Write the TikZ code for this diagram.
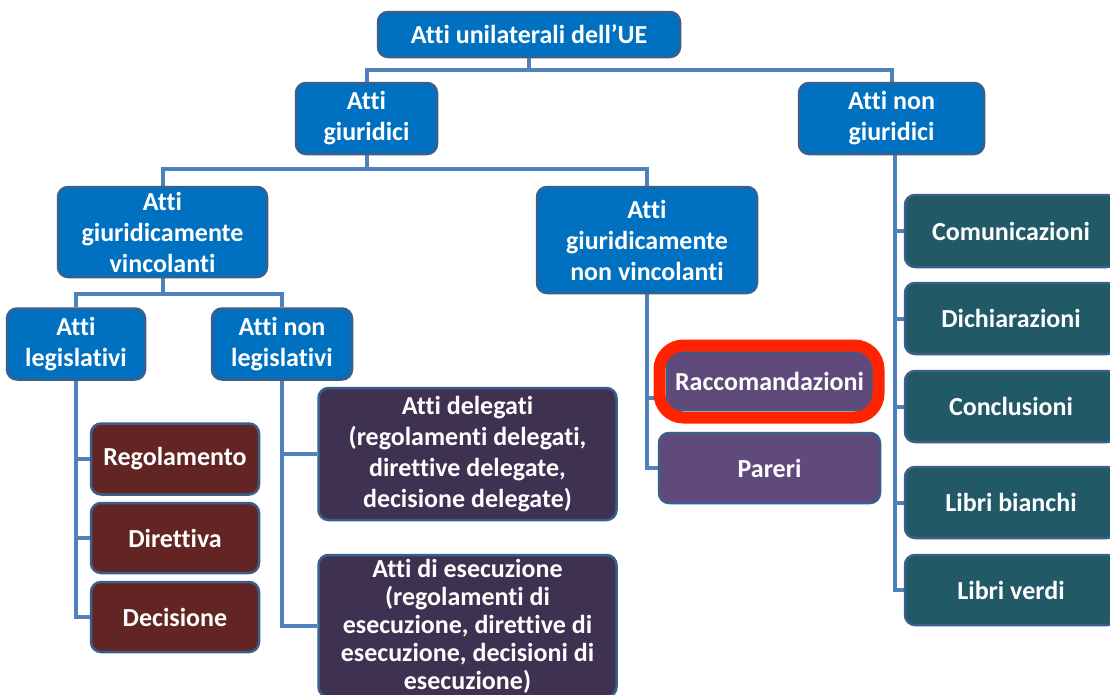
\documentclass[tikz,border=0pt]{standalone}
\usepackage{fontspec}
\setmainfont{Carlito}[Ligatures={NoCommon,NoRequired,NoContextual}]
\usetikzlibrary{backgrounds,calc}
\definecolor{cblue}{HTML}{0070C0}
\definecolor{cedge}{HTML}{3A5F8B}
\definecolor{cmaroon}{HTML}{632523}
\definecolor{cdpurple}{HTML}{3F3151}
\definecolor{cpurple}{HTML}{604A7B}
\definecolor{cteal}{HTML}{215967}
\definecolor{cred}{HTML}{FF2300}
\definecolor{cconn}{HTML}{4F81BD}
\tikzset{
  box/.style={draw=cedge, line width=2.5pt, rounded corners=10pt, text=white, align=center,
    inner sep=0pt, font=\fontsize{26}{31}\selectfont\bfseries},
  bluebox/.style={box, fill=cblue},
  redbox/.style={box, fill=cmaroon},
  dpbox/.style={box, fill=cdpurple},
  pbox/.style={box, fill=cpurple},
  tealbox/.style={box, fill=cteal},
  conn/.style={draw=cconn, line width=4pt},
}
\begin{document}
\begin{tikzpicture}[x=1pt,y=-1pt]
\useasboundingbox (0,0) rectangle (1110,694);
\clip (0,0) rectangle (1110,694);
% nodes
\node[bluebox, minimum width=302pt, minimum height=45pt] (root) at (529,34.5) {Atti unilaterali dell’UE};
\node[bluebox, minimum width=141pt, minimum height=71pt] (giur) at (366.5,118.5) {Atti\\giuridici};
\node[bluebox, minimum width=185pt, minimum height=71pt] (nongiur) at (891.5,118.5) {Atti non\\giuridici};
\node[bluebox, minimum width=209pt, minimum height=90pt] (vinc) at (162.5,232) {Atti\\giuridicamente\\vincolanti};
\node[bluebox, minimum width=220pt, minimum height=106pt] (nonvinc) at (647,240) {Atti\\giuridicamente\\non vincolanti};
\node[bluebox, minimum width=138pt, minimum height=71pt] (legis) at (76,344) {Atti\\legislativi};
\node[bluebox, minimum width=140pt, minimum height=71pt] (nonlegis) at (282,344) {Atti non\\legislativi};
\node[redbox, minimum width=168pt, minimum height=71pt] (reg) at (175,459) {Regolamento};
\node[redbox, minimum width=168pt, minimum height=70pt] (dir) at (175,538) {Direttiva};
\node[redbox, minimum width=168pt, minimum height=70pt] (dec) at (175,617) {Decisione};
\node[dpbox, minimum width=298pt, minimum height=132pt] (deleg) at (467.5,454) {Atti delegati\\(regolamenti delegati,\\direttive delegate,\\decisione delegate)};
\node[dpbox, minimum width=298pt, minimum height=142pt, font=\fontsize{26}{28}\selectfont\bfseries] (esec) at (467.5,626) {Atti di esecuzione\\(regolamenti di\\esecuzione, direttive di\\esecuzione, decisioni di\\esecuzione)};
\node[pbox, minimum width=205pt, minimum height=58pt] (racc) at (769.5,381) {Raccomandazioni};
\node[draw=cred, line width=12pt, rounded corners=24pt, minimum width=219pt, minimum height=72pt] (ring) at (769,381.5) {};
\node[pbox, minimum width=221pt, minimum height=70pt] (pareri) at (769.5,468) {Pareri};
\node[tealbox, minimum width=212pt, minimum height=72pt] (com) at (1011,231) {Comunicazioni};
\node[tealbox, minimum width=212pt, minimum height=71pt] (dich) at (1011,318.5) {Dichiarazioni};
\node[tealbox, minimum width=212pt, minimum height=71pt] (concl) at (1011,406.5) {Conclusioni};
\node[tealbox, minimum width=212pt, minimum height=71pt] (lb) at (1011,502.5) {Libri bianchi};
\node[tealbox, minimum width=212pt, minimum height=70pt] (lv) at (1011,590) {Libri verdi};
% connectors
\begin{pgfonlayer}{background}
\fill[white] (0,0) rectangle (1110,694);
\coordinate (b1) at (529,70);
\coordinate (b2) at (366,169);
\coordinate (b3) at (163,293.5);
\draw[conn] (root.south) -- (root.south |- b1);
\draw[conn] (giur.north) |- (nongiur.north |- b1) -- (nongiur.north);
\draw[conn] (giur.south) -- (giur.south |- b2);
\draw[conn] (vinc.north) |- (nonvinc.north |- b2) -- (nonvinc.north);
\draw[conn] (vinc.south) -- (vinc.south |- b3);
\draw[conn] (legis.north) |- (nonlegis.north |- b3) -- (nonlegis.north);
% legislativi
\draw[conn] (legis.south) |- (dec.west);
\draw[conn] (legis.south |- reg.west) -- (reg.west);
\draw[conn] (legis.south |- dir.west) -- (dir.west);
% non legislativi
\draw[conn] (nonlegis.south) |- (esec.west);
\draw[conn] (nonlegis.south |- deleg.west) -- (deleg.west);
% non vincolanti
\coordinate (rstub) at ($(racc.west)+(0,17)$);
\draw[conn] (nonvinc.south) |- (pareri.west);
\draw[conn] (nonvinc.south |- rstub) -- (rstub);
% non giuridici
\coordinate (rv) at ($(nongiur.south)+(3.5,0)$);
\draw[conn] (rv) |- (lv.west);
\draw[conn] (rv |- com.west) -- (com.west);
\draw[conn] (rv |- dich.west) -- (dich.west);
\draw[conn] (rv |- concl.west) -- (concl.west);
\draw[conn] (rv |- lb.west) -- (lb.west);
\end{pgfonlayer}
\end{tikzpicture}
\end{document}
